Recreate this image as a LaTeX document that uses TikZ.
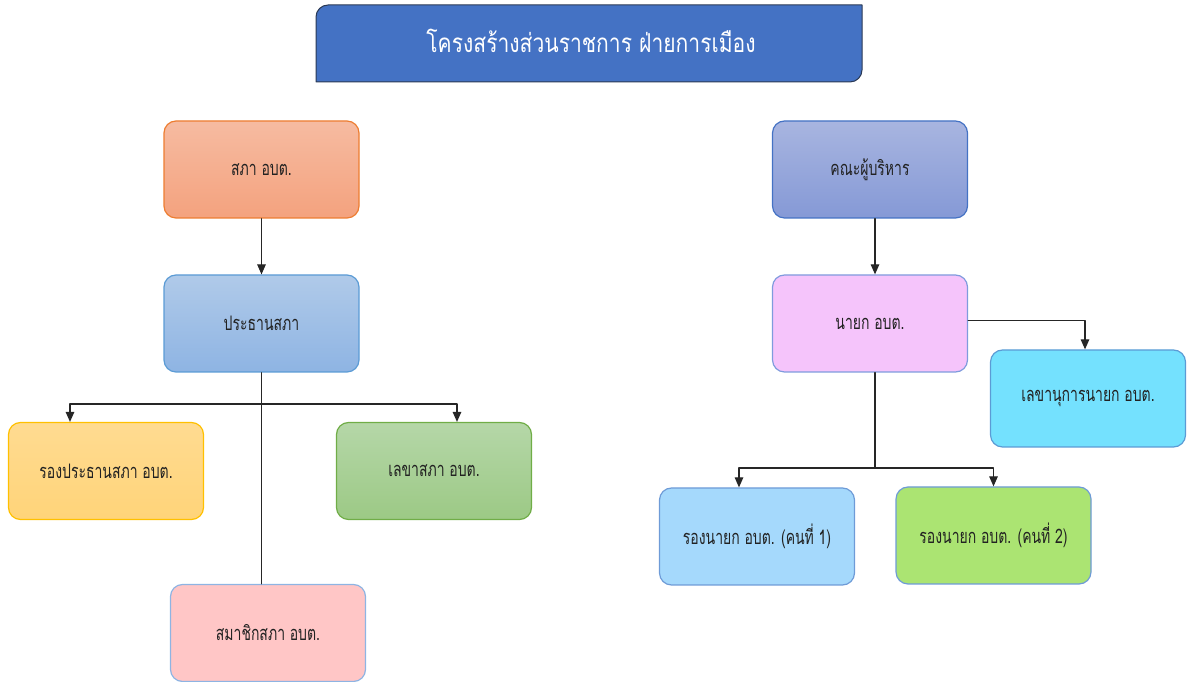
\documentclass[tikz,border=0pt]{standalone}
\usepackage{fontspec}
\newfontfamily\thaifont[Script=Thai,FakeStretch=0.7]{Loma}
\newfontfamily\thaititlefont[Script=Thai,FakeStretch=0.81]{Loma}
\usetikzlibrary{arrows.meta}
\definecolor{titleblue}{HTML}{4472C4}
\definecolor{titleedge}{HTML}{2B3A55}
\definecolor{linegray}{HTML}{262626}
\definecolor{textgray}{HTML}{222222}
\definecolor{saphatop}{HTML}{F6BBA1}
\definecolor{saphabot}{HTML}{F4A27E}
\definecolor{saphaedge}{HTML}{ED7D31}
\definecolor{prathantop}{HTML}{B0CAE9}
\definecolor{prathanbot}{HTML}{8EB4E3}
\definecolor{prathanedge}{HTML}{5B9BD5}
\definecolor{rongtop}{HTML}{FFDB91}
\definecolor{rongbot}{HTML}{FFD479}
\definecolor{rongedge}{HTML}{FFC000}
\definecolor{lekhatop}{HTML}{B5D7A8}
\definecolor{lekhabot}{HTML}{9CC985}
\definecolor{lekhaedge}{HTML}{70AD47}
\definecolor{samachikfill}{HTML}{FFC6C6}
\definecolor{samachikedge}{HTML}{8EB4E3}
\definecolor{khanatop}{HTML}{A8B5E0}
\definecolor{khanabot}{HTML}{8599D6}
\definecolor{khanaedge}{HTML}{4472C4}
\definecolor{nayokfill}{HTML}{F5C4FB}
\definecolor{nayokedge}{HTML}{7F9BDD}
\definecolor{lekhanukanfill}{HTML}{74E1FE}
\definecolor{lekhanukanedge}{HTML}{5B9BD5}
\definecolor{rnonefill}{HTML}{A5D9FC}
\definecolor{rntwofill}{HTML}{ABE472}
\definecolor{rnedge}{HTML}{6E9BD7}

\begin{document}
\begin{tikzpicture}[line cap=round,line join=round,>={Triangle[width=8.5pt,length=10pt]},x=1pt,y=1pt,
    box/.style={rectangle,rounded corners=12pt,minimum width=195pt,minimum height=97pt,
        line width=1.2pt,font=\thaifont\fontsize{20}{24}\selectfont,text=textgray},
    conn/.style={line width=1.2pt,color=linegray}]
            \useasboundingbox (0,0) rectangle (1188,682);
            \draw [fill=titleblue,draw=titleedge,line width=1pt] (316,600) -- (316,665) arc[start angle=180,end angle=90,radius=12] -- (862,677) -- (862,612) arc[start angle=0,end angle=-90,radius=12] -- cycle;
            \node [font=\thaititlefont\fontsize{26}{30}\selectfont,text=white] (title) at (591,641) {โครงสร้างส่วนราชการ ฝ่ายการเมือง};
            \node [box,draw=saphaedge,top color=saphatop,bottom color=saphabot] (sapha) at (261.5,512.5) {สภา อบต.};
            \node [box,draw=prathanedge,top color=prathantop,bottom color=prathanbot] (prathan) at (261.5,358.5) {ประธานสภา};
            \node [box,draw=rongedge,top color=rongtop,bottom color=rongbot] (rongprathan) at (106,211) {รองประธานสภา อบต.};
            \node [box,draw=lekhaedge,top color=lekhatop,bottom color=lekhabot] (lekhasapha) at (434,211) {เลขาสภา อบต.};
            \node [box,draw=samachikedge,fill=samachikfill] (samachik) at (268,49) {สมาชิกสภา อบต.};
            \node [box,draw=khanaedge,top color=khanatop,bottom color=khanabot] (khana) at (870,512.5) {คณะผู้บริหาร};
            \node [box,draw=nayokedge,fill=nayokfill] (nayok) at (870,358.5) {นายก อบต.};
            \node [box,draw=lekhanukanedge,fill=lekhanukanfill] (lekhanukan) at (1088,283.5) {เลขานุการนายก อบต.};
            \node [box,draw=rnedge,fill=rnonefill] (rongnayokone) at (757,145.5) {รองนายก อบต. (คนที่ 1)};
            \node [box,draw=rnedge,fill=rntwofill] (rongnayoktwo) at (993.5,146.5) {รองนายก อบต. (คนที่ 2)};
            \coordinate (sapajoin) at (261.5,278);
            \coordinate (nayokjoin) at (875,214);
            \draw [->,conn] (sapha) -- (prathan);
            \draw [conn] (prathan.south) -- (prathan.south |- samachik.north);
            \draw [->,conn] (sapajoin) -| ([xshift=-36pt]rongprathan.north);
            \draw [->,conn] (sapajoin) -| ([xshift=23pt]lekhasapha.north);
            \draw [->,conn] ([xshift=5pt]khana.south) -- ([xshift=5pt]nayok.north);
            \draw [->,conn] ([yshift=3pt]nayok.east) -| ([xshift=-3pt]lekhanukan.north);
            \draw [conn] ([xshift=5pt]nayok.south) -- (nayokjoin);
            \draw [->,conn] (nayokjoin) -| ([xshift=-18pt]rongnayokone.north);
            \draw [->,conn] (nayokjoin) -| (rongnayoktwo.north);
\end{tikzpicture}
\end{document}
